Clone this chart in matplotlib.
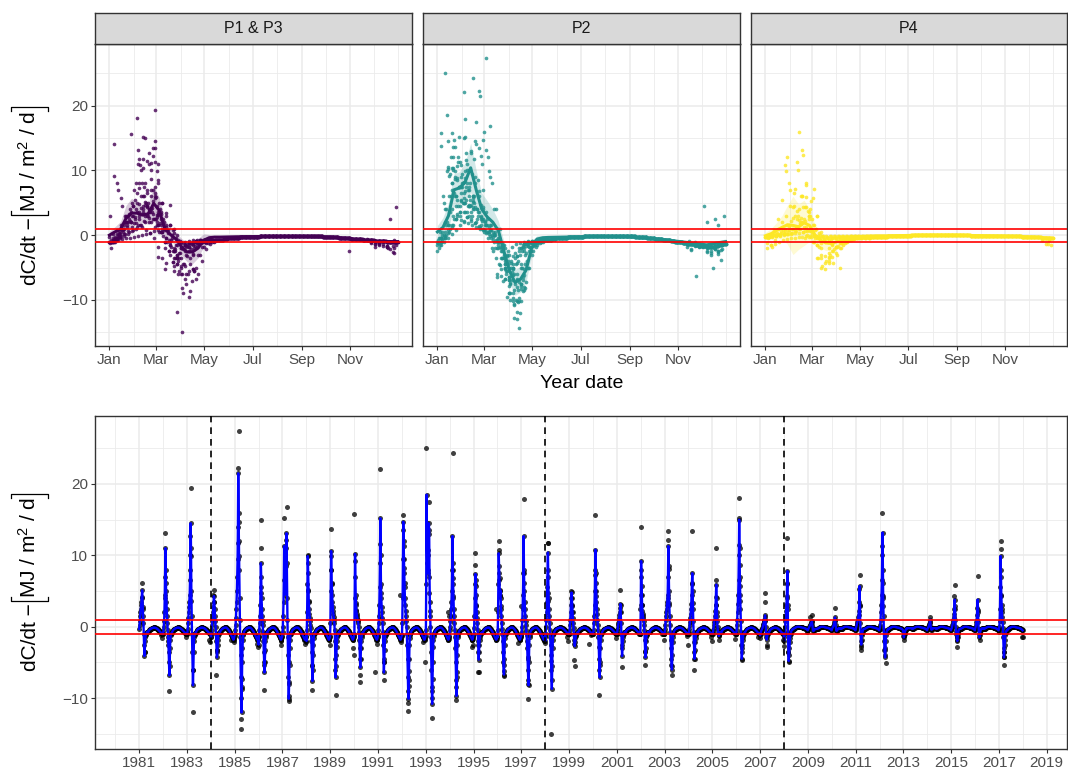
import matplotlib.pyplot as plt
from matplotlib.lines import Line2D
import numpy as np

plt.rcParams['font.family'] = ['Liberation Sans', 'DejaVu Sans']
plt.rcParams['mathtext.fontset'] = 'custom'
plt.rcParams['mathtext.rm'] = 'Liberation Sans'
plt.rcParams['mathtext.it'] = 'Liberation Sans:italic'
plt.rcParams['mathtext.bf'] = 'Liberation Sans:bold'

# day of year grids (0 = 1 Jan)
spring_doy = list(range(0, 131, 5))
base_doy = list(range(135, 361, 5))

# winter/spring values per year, one value per spring_doy
spring_p1 = {
    1981: [-0.3, 0.2, 0.8, 1.5, 2.0, 2.5, 3.0, 3.5, 4.2, 5.1, 4.0, 2.5, 1.5, 0.5, -1.0, -2.5, -4.1, -3.5, -2.0, -1.5, -1.2, -1.0, -0.9, -0.8, -0.7, -0.7, -0.8],
    1982: [-1.0, -0.6, 0.0, 0.8, 2.0, 4.0, 7.0, 11.0, 8.0, 5.0, 3.5, 2.5, 1.5, 0.5, -0.5, -1.5, -2.5, -3.5, -5.0, -6.8, -5.5, -3.0, -1.8, -1.2, -1.0, -0.9, -0.9],
    1983: [-1.0, -0.8, -0.3, 0.5, 1.2, 2.0, 2.8, 3.5, 4.5, 6.5, 10.0, 14.5, 11.0, 5.0, 1.5, -1.0, -3.5, -6.0, -8.2, -6.0, -3.5, -2.0, -1.4, -1.1, -1.0, -0.9, -0.9],
}
spring_p2 = {
    1984: [-1.5, -1.0, -0.5, 0.2, 0.8, 1.5, 2.0, 2.8, 3.5, 4.3, 3.5, 2.5, 1.5, 0.8, 0.0, -1.0, -2.0, -3.2, -4.3, -3.5, -2.5, -1.8, -1.3, -1.0, -0.9, -0.8, -0.8],
    1985: [-1.0, -0.5, 0.3, 1.2, 2.5, 3.5, 5.0, 7.0, 9.5, 14.0, 21.5, 16.0, 12.0, 8.0, 4.0, 1.0, -1.5, -4.0, -7.0, -10.0, -12.0, -8.5, -5.0, -3.0, -1.8, -1.2, -1.0],
    1986: [-2.5, -1.5, -0.5, 0.5, 1.5, 3.0, 5.5, 8.9, 7.0, 4.0, 2.5, 1.5, 0.8, 0.2, -0.8, -2.0, -3.5, -5.0, -6.4, -5.0, -3.2, -2.0, -1.4, -1.1, -0.9, -0.8, -0.8],
    1987: [-0.8, 0.0, 1.5, 3.5, 6.5, 11.3, 8.0, 5.5, 4.5, 6.0, 8.5, 11.0, 13.1, 9.0, 4.0, 1.0, -1.5, -4.0, -7.0, -10.1, -8.0, -5.0, -3.0, -1.8, -1.2, -1.0, -0.9],
    1988: [-2.0, -0.5, 2.0, 6.0, 9.9, 7.5, 5.0, 3.5, 2.5, 1.8, 1.2, 0.8, 0.3, -0.2, -1.0, -2.0, -3.5, -5.5, -7.6, -6.0, -4.0, -2.5, -1.6, -1.2, -1.0, -0.9, -0.9],
    1989: [0.5, 5.0, 10.6, 8.0, 6.0, 4.5, 3.5, 2.8, 2.2, 1.8, 1.4, 1.0, 0.5, -0.5, -2.0, -4.5, -7.1, -5.5, -4.0, -2.8, -2.0, -1.5, -1.2, -1.0, -0.9, -0.8, -0.8],
    1990: [-1.0, 4.0, 10.2, 7.0, 4.5, 3.0, 2.2, 1.8, 1.5, 1.2, 1.0, 0.8, 0.5, 0.0, -0.8, -1.8, -3.0, -4.5, -5.7, -4.5, -3.0, -2.0, -1.4, -1.1, -0.9, -0.8, -0.8],
    1991: [-1.0, -0.5, 0.5, 1.5, 3.0, 5.5, 9.0, 15.2, 10.0, 6.0, 4.0, 2.8, 2.0, 1.2, 0.5, -0.8, -2.5, -4.5, -6.4, -5.0, -3.2, -2.0, -1.4, -1.1, -1.0, -0.9, -0.9],
    1992: [-1.2, 0.5, 4.0, 9.5, 14.7, 12.0, 9.5, 7.5, 5.5, 4.0, 3.0, 2.2, 1.5, 0.8, 0.0, -1.0, -2.5, -4.5, -7.0, -9.0, -10.1, -7.5, -4.5, -2.5, -1.6, -1.2, -1.0],
    1993: [-0.5, 6.0, 18.5, 12.0, 9.0, 7.5, 8.0, 10.0, 13.0, 14.5, 13.5, 7.0, 3.5, 1.5, 0.0, -1.5, -3.5, -6.0, -9.0, -10.8, -8.5, -5.0, -2.8, -1.8, -1.3, -1.0, -0.9],
    1994: [-0.5, 0.0, 0.8, 1.5, 2.5, 3.5, 5.0, 8.0, 12.7, 9.0, 6.0, 4.0, 2.5, 1.5, 0.5, -0.5, -1.5, -3.0, -5.0, -7.5, -9.7, -7.0, -4.0, -2.5, -1.5, -1.1, -0.9],
    1995: [-1.0, -0.2, 1.5, 4.0, 6.0, 7.4, 6.5, 4.5, 3.0, 2.0, 1.2, 0.5, -0.5, -2.0, -3.5, -4.6, -3.5, -2.5, -1.8, -1.4, -1.2, -1.0, -0.9, -0.9, -0.8, -0.8, -0.8],
    1996: [-1.5, -0.5, 2.0, 6.0, 10.3, 8.5, 6.5, 5.0, 4.5, 5.1, 4.0, 2.5, 1.5, 0.5, -0.3, -1.0, -2.0, -3.5, -5.0, -6.2, -6.7, -4.5, -2.5, -1.6, -1.2, -1.0, -0.9],
    1997: [-1.2, -0.8, 0.0, 1.0, 2.5, 4.5, 7.5, 12.7, 8.0, 5.0, 3.5, 2.5, 1.5, 0.8, 0.2, -0.5, -1.2, -2.0, -3.0, -4.5, -6.0, -7.5, -8.2, -5.0, -2.5, -1.5, -1.1],
}
spring_p3 = {
    1998: [-2.0, -1.0, 0.0, 1.0, 2.0, 3.5, 5.5, 8.0, 10.4, 7.0, 4.0, 2.5, 1.5, 0.5, -0.5, -1.5, -2.5, -4.0, -6.0, -7.5, -8.7, -5.5, -3.0, -1.8, -1.2, -1.0, -0.9],
    1999: [-1.0, -0.5, 0.2, 1.0, 2.0, 3.0, 4.0, 4.8, 4.0, 3.0, 2.0, 1.2, 0.5, -0.2, -1.0, -1.8, -2.4, -2.7, -2.2, -1.6, -1.3, -1.1, -1.0, -0.9, -0.8, -0.8, -0.8],
    2000: [-1.0, -0.5, 0.5, 1.5, 3.0, 5.0, 8.0, 10.8, 7.5, 5.0, 3.5, 2.5, 1.8, 1.0, 0.3, -0.5, -1.5, -2.8, -4.5, -6.0, -7.1, -5.0, -3.0, -1.8, -1.2, -1.0, -0.9],
    2001: [-1.0, -0.8, -0.5, -0.2, 0.2, 0.5, 0.8, 1.2, 1.6, 2.0, 2.6, 3.2, 2.0, 0.5, -1.0, -2.5, -4.1, -3.0, -2.0, -1.5, -1.2, -1.0, -0.9, -0.8, -0.8, -0.7, -0.7],
    2002: [3.0, 9.2, 7.0, 4.5, 3.0, 2.2, 1.8, 1.5, 1.2, 0.8, 0.3, -0.5, -1.8, -3.5, -4.3, -3.0, -2.0, -1.5, -1.2, -1.0, -0.9, -0.8, -0.8, -0.7, -0.7, -0.7, -0.7],
    2003: [-0.8, -0.3, 0.3, 1.0, 1.5, 2.0, 2.5, 3.0, 3.5, 4.5, 7.0, 11.3, 8.5, 5.0, 3.0, 1.5, 0.3, -0.8, -1.8, -3.0, -4.5, -5.5, -6.0, -4.0, -2.2, -1.4, -1.0],
    2004: [-1.0, -0.7, -0.3, 0.2, 0.7, 1.2, 1.8, 2.5, 3.2, 4.5, 6.0, 7.5, 5.0, 2.5, 0.8, -0.8, -2.2, -3.5, -4.5, -3.2, -2.2, -1.6, -1.2, -1.0, -0.9, -0.8, -0.8],
    2005: [-1.0, -0.8, -0.5, -0.2, 0.2, 0.6, 1.0, 1.5, 2.2, 3.0, 4.2, 5.9, 4.0, 2.0, 0.8, 0.0, -0.5, -0.9, -1.2, -1.3, -1.2, -1.0, -0.9, -0.8, -0.8, -0.7, -0.7],
    2006: [-1.0, -0.5, 0.2, 1.0, 2.0, 3.2, 4.5, 6.5, 10.0, 15.0, 11.0, 7.0, 4.5, 2.5, 0.8, -0.8, -2.5, -4.5, -3.5, -2.5, -1.8, -1.4, -1.1, -1.0, -0.9, -0.8, -0.8],
    2007: [-1.2, -1.0, -0.8, -0.6, -0.5, -0.4, -0.3, -0.2, 0.0, 0.2, 0.4, 0.6, 0.8, 1.0, 1.3, 1.6, 1.0, 0.0, -1.0, -1.5, -1.8, -1.5, -1.2, -1.0, -0.9, -0.8, -0.8],
}
spring_p4 = {
    2008: [-2.0, -1.5, -0.8, 0.0, 0.8, 1.5, 2.2, 3.0, 4.0, 6.0, 7.8, 3.0, -1.0, -3.5, -4.8, -4.0, -3.0, -2.2, -1.6, -1.2, -1.0, -0.8, -0.6, -0.5, -0.4, -0.4, -0.4],
    2009: [-0.4, -0.3, -0.2, -0.1, 0.0, 0.1, 0.2, 0.3, 0.4, 0.5, 0.6, 0.7, 0.8, 0.3, -0.2, -0.5, -0.6, -0.5, -0.5, -0.4, -0.4, -0.3, -0.3, -0.3, -0.3, -0.3, -0.3],
    2010: [-0.3, -0.2, -0.1, 0.0, 0.1, 0.2, 0.4, 0.6, 0.9, 1.3, 0.8, 0.2, -0.2, -0.5, -0.6, -0.5, -0.4, -0.4, -0.3, -0.3, -0.3, -0.2, -0.2, -0.2, -0.2, -0.2, -0.2],
    2011: [-0.3, -0.2, 0.0, 0.2, 0.4, 0.6, 0.8, 1.0, 1.3, 1.7, 2.2, 3.5, 5.7, 3.0, 0.5, -1.0, -2.0, -2.5, -1.8, -1.2, -0.9, -0.7, -0.5, -0.4, -0.3, -0.3, -0.3],
    2012: [-0.3, -0.1, 0.3, 1.0, 2.0, 3.0, 4.5, 6.5, 10.0, 13.2, 8.0, 4.0, 1.5, -0.5, -2.0, -3.2, -4.0, -4.3, -3.0, -2.0, -1.2, -0.8, -0.6, -0.5, -0.4, -0.4, -0.4],
    2013: [-1.2, -1.5, -1.3, -1.0, -0.8, -0.6, -0.5, -0.4, -0.3, -0.3, -0.2, -0.2, -0.2, -0.2, -0.2, -0.2, -0.2, -0.2, -0.2, -0.2, -0.2, -0.2, -0.2, -0.2, -0.2, -0.2, -0.2],
    2014: [-0.3, -0.2, -0.1, 0.0, 0.1, 0.2, 0.4, 0.6, 1.0, 0.5, 0.0, -0.3, -0.4, -0.4, -0.3, -0.3, -0.2, -0.2, -0.2, -0.2, -0.2, -0.2, -0.2, -0.2, -0.2, -0.2, -0.2],
    2015: [-0.3, -0.2, 0.0, 0.2, 0.4, 0.6, 0.9, 1.3, 1.8, 2.5, 3.8, 2.5, 1.0, 0.0, -0.6, -1.0, -1.4, -1.8, -2.0, -1.5, -1.0, -0.7, -0.5, -0.4, -0.3, -0.3, -0.3],
    2016: [-0.3, -0.2, 0.0, 0.3, 0.6, 1.0, 1.6, 2.6, 3.8, 2.0, 0.6, -0.3, -1.0, -1.5, -1.2, -0.9, -0.7, -0.5, -0.4, -0.3, -0.3, -0.3, -0.2, -0.2, -0.2, -0.2, -0.2],
    2017: [-0.3, 0.0, 0.8, 2.5, 5.5, 9.9, 7.0, 4.5, 3.0, 2.0, 1.3, 0.7, -0.2, -1.5, -3.0, -4.3, -3.5, -2.5, -1.8, -1.2, -0.9, -0.7, -0.6, -0.5, -0.5, -0.5, -0.5],
}

# single days off the regular line (doy, value)
extra_p1 = {
    1981: [(44, 6.1), (60, 2.8), (83, -3.6), (330, -1.2), (350, -1.6)],
    1982: [(36, 13.1), (40, 6.1), (30, 4.5), (93, -9.0), (70, -2.0), (320, -0.6), (345, -1.4), (360, -0.8)],
    1983: [(57, 19.4), (50, 12.7), (60, 9.9), (45, 8.0), (86, -11.9), (65, 3.6), (335, -1.8), (355, -2.2), (362, -1.5)],
}
extra_p2 = {
    1984: [(45, 5.2), (40, 4.5), (85, -6.7), (95, -3.2), (315, -1.9), (330, -1.3), (350, -2.1)],
    1985: [(61, 27.4), (53, 22.3), (46, 11.7), (58, 14.7), (65, 9.9), (100, -12.9), (103, -14.3), (108, -8.7), (112, -7.3), (340, -2.4), (355, -2.9)],
    1986: [(33, 15.0), (38, 11.0), (42, 4.7), (90, -8.9), (85, -5.3), (325, -1.6), (340, -2.6), (350, -2.0)],
    1987: [(66, 16.8), (27, 15.2), (55, 12.2), (35, 9.9), (45, 5.7), (102, -10.4), (95, -9.7), (105, -7.8), (110, -5.3), (330, -1.9), (345, -2.4), (360, -2.2)],
    1988: [(20, 10.0), (25, 8.9), (30, 5.2), (35, 3.6), (90, -8.9), (80, -5.3), (318, -0.9), (335, -1.5), (355, -2.6)],
    1989: [(5, 13.7), (12, 9.9), (18, 8.0), (22, 6.1), (88, -9.5), (75, -6.0), (345, -3.0), (358, -3.9)],
    1990: [(4, 15.8), (15, 9.2), (25, 3.3), (30, 2.4), (90, -7.8), (86, -6.7), (326, -6.3), (340, -1.8), (355, -2.4)],
    1991: [(33, 22.1), (36, 11.6), (40, 4.7), (92, -7.4), (85, -5.0), (337, 4.5), (350, -2.2)],
    1992: [(18, 15.7), (22, 13.6), (28, 11.3), (33, 8.2), (40, 6.1), (97, -10.7), (100, -11.8), (105, -8.3), (110, -6.2), (320, -2.2), (330, -1.4), (348, -5.0)],
    1993: [(9, 25.1), (49, 17.5), (14, 14.5), (20, 13.6), (30, 10.8), (55, 4.7), (60, 2.2), (97, -12.8), (92, -10.0), (103, -7.3), (340, 2.0), (355, 1.5)],
    1994: [(45, 24.3), (48, 8.0), (52, 6.8), (58, 4.3), (103, -10.2), (97, -8.5), (108, -6.4), (335, -1.8), (345, -2.8), (355, -2.5)],
    1995: [(18, 10.4), (22, 8.7), (33, 5.7), (40, 2.9), (75, -6.4), (80, -6.3), (70, -2.5), (330, -1.5), (350, 2.5)],
    1996: [(20, 12.0), (25, 10.7), (30, 7.5), (35, 6.8), (45, 4.3), (55, 2.9), (101, -6.9), (95, -5.3), (320, -2.3), (345, -1.7), (362, 2.9)],
    1997: [(35, 17.9), (40, 7.5), (45, 6.1), (105, -10.1), (110, -8.0), (100, -4.3), (325, -1.0), (340, -2.0), (358, -2.3)],
}
extra_p3 = {
    1998: [(38, 11.8), (42, 11.7), (45, 4.7), (50, 3.6), (92, -15.0), (95, -4.8), (335, -1.4), (352, -2.0)],
    1999: [(35, 5.0), (45, 2.9), (50, 2.0), (82, -4.7), (88, -5.5), (303, -2.4), (340, -1.2)],
    2000: [(27, 15.6), (38, 7.3), (42, 6.1), (48, 4.3), (100, -9.6), (105, -5.3), (325, -0.6), (350, -1.6)],
    2001: [(55, 5.2), (60, 3.1), (82, -5.6), (355, 2.5), (362, 4.4)],
    2002: [(6, 14.0), (10, 8.0), (15, 5.7), (20, 3.0), (70, -5.3), (62, -3.4), (330, -1.0), (350, -1.8)],
    2003: [(58, 13.4), (55, 12.2), (62, 8.1), (50, 4.0), (65, 3.3), (110, -6.7), (105, -5.3), (335, -1.3), (358, -2.6)],
    2004: [(55, 13.4), (58, 6.1), (62, 3.3), (90, -6.0), (85, -4.5), (340, -1.5), (360, -2.0)],
    2005: [(53, 11.1), (57, 6.5), (62, 3.1), (65, 1.5), (97, -1.8), (320, -0.8), (345, -1.7)],
    2006: [(35, 18.1), (42, 15.2), (48, 11.5), (52, 8.7), (58, 5.7), (62, 3.6), (90, -4.7), (85, -3.0), (340, -1.4), (358, -1.6)],
    2007: [(77, 4.7), (72, 3.4), (80, 0.8), (100, -2.5), (105, -2.9), (350, -1.8), (360, -2.7)],
}
extra_p4 = {
    2008: [(48, 12.4), (45, 6.1), (52, 4.3), (55, 2.5), (70, -5.0), (65, -3.5), (350, -0.8)],
    2009: [(60, 1.6), (30, 1.4)],
    2010: [(45, 2.6), (50, -0.5)],
    2011: [(62, 7.2), (58, 5.3), (65, 2.9), (85, -3.3), (80, -2.8)],
    2012: [(42, 15.9), (40, 11.3), (46, 6.1), (50, 4.3), (55, 2.9), (95, -5.1), (80, -3.3), (358, -1.3)],
    2013: [(8, -1.8)],
    2014: [(40, 1.3)],
    2015: [(51, 5.9), (48, 4.3), (55, 2.9), (90, -2.8), (85, -1.5)],
    2016: [(38, 7.1), (42, 2.4), (68, -1.8), (360, -0.8)],
    2017: [(28, 12.0), (25, 10.9), (30, 8.0), (35, 4.3), (40, 2.5), (75, -5.3), (70, -3.5), (80, -4.3), (355, -1.4), (362, -1.5)],
}

# summer/autumn values per period, one value per base_doy
base_p13 = [-0.8, -0.7, -0.6, -0.5, -0.45, -0.4, -0.35, -0.3, -0.3, -0.25, -0.25, -0.2, -0.2, -0.2, -0.15, -0.15,
            -0.15, -0.1, -0.1, -0.1, -0.1, -0.15, -0.15, -0.15, -0.2, -0.2, -0.2, -0.25, -0.3, -0.3, -0.35, -0.4,
            -0.45, -0.5, -0.55, -0.6, -0.65, -0.7, -0.75, -0.8, -0.85, -0.9, -0.95, -1.0, -1.0, -1.0]
base_p2 = [-0.8, -0.7, -0.6, -0.5, -0.45, -0.4, -0.35, -0.3, -0.3, -0.25, -0.2, -0.2, -0.15, -0.15, -0.15, -0.1,
           -0.1, -0.1, -0.1, -0.1, -0.15, -0.15, -0.2, -0.25, -0.3, -0.35, -0.4, -0.5, -0.55, -0.6, -0.7, -0.8,
           -0.9, -1.0, -1.1, -1.2, -1.3, -1.4, -1.5, -1.6, -1.7, -1.8, -1.8, -1.7, -1.5, -1.3]
base_p4 = [-0.3, -0.3, -0.25, -0.25, -0.2, -0.2, -0.15, -0.15, -0.1, -0.1, -0.05, -0.05, 0.0, 0.0, 0.0, 0.0,
           0.0, 0.0, 0.0, 0.0, 0.0, 0.0, -0.05, -0.05, -0.05, -0.1, -0.1, -0.1, -0.1, -0.1, -0.15, -0.15,
           -0.15, -0.15, -0.2, -0.2, -0.2, -0.2, -0.25, -0.25, -0.3, -0.3, -0.35, -0.4, -0.45, -0.5]

# smoothed seasonal curves for the top panels (value, half width of band)
smooth_doy = [0, 7, 14, 21, 28, 35, 42, 49, 56, 63, 70, 77, 84, 91, 98, 105, 112, 119, 126, 133, 140, 160, 200, 240, 280, 300, 320, 340, 364]
smooth_p13 = [0.0, 0.5, 0.9, 2.6, 3.4, 3.4, 3.1, 3.3, 4.9, 3.8, 1.0, 0.1, -0.6, -1.8, -2.6, -2.6, -2.0, -0.8, -0.4, -0.3,
              -0.3, -0.25, -0.2, -0.2, -0.3, -0.5, -0.8, -1.0, -1.0]
band_p13 = [0.6, 0.8, 1.2, 2.0, 2.3, 1.5, 1.2, 1.6, 2.6, 2.0, 1.4, 1.0, 1.0, 1.3, 1.5, 1.8, 1.5, 1.0, 0.5, 0.25,
            0.15, 0.15, 0.15, 0.15, 0.15, 0.15, 0.2, 0.2, 0.3]
smooth_p2 = [0.5, 1.2, 3.0, 7.0, 7.3, 8.2, 10.4, 7.0, 4.0, 2.8, 2.0, 0.7, -2.5, -5.5, -7.3, -6.8, -5.4, -2.0, -0.6, -0.4,
             -0.35, -0.3, -0.2, -0.25, -0.6, -0.9, -1.2, -1.5, -1.0]
band_p2 = [1.0, 1.5, 2.0, 2.5, 2.5, 3.0, 3.8, 3.0, 2.5, 2.5, 2.0, 1.5, 1.5, 1.8, 2.0, 2.0, 1.8, 1.2, 0.5, 0.3,
           0.2, 0.2, 0.2, 0.2, 0.2, 0.2, 0.25, 0.3, 0.4]
smooth_p4 = [-0.1, 0.2, 0.7, 1.2, 1.6, 1.5, 1.3, 1.9, 1.5, 0.0, -0.8, -1.2, -1.3, -1.0, -0.8, -0.6, -0.4, -0.3, -0.2, -0.15,
             -0.1, -0.1, 0.0, 0.0, -0.1, -0.15, -0.2, -0.3, -0.5]
band_p4 = [0.5, 0.8, 1.2, 1.8, 3.0, 4.5, 3.5, 3.5, 2.5, 1.5, 1.2, 1.2, 1.0, 0.8, 0.7, 0.6, 0.4, 0.3, 0.15, 0.15,
           0.15, 0.15, 0.15, 0.15, 0.15, 0.15, 0.15, 0.2, 0.3]

change_years = [1984, 1998, 2008]

# ---- assemble the series
periods = [("P1 & P3", spring_p1, extra_p1, base_p13),
           ("P2", spring_p2, extra_p2, base_p2),
           ("P1 & P3", spring_p3, extra_p3, base_p13),
           ("P4", spring_p4, extra_p4, base_p4)]

line_t, line_v = [], []
pt_t, pt_v, pt_doy, pt_panel = [], [], [], []
for panel, spring, extra, base in periods:
    for year in sorted(spring):
        assert len(spring[year]) == len(spring_doy), year
        assert len(base) == len(base_doy)
        start = (year - 1981) % 5   # sampling days move a little from year to year
        for d, v in zip(spring_doy + base_doy, spring[year] + base):
            d = d + start
            line_t.append(year + d / 365.0)
            line_v.append(v)
            pt_t.append(year + d / 365.0)
            pt_v.append(v)
            pt_doy.append(d)
            pt_panel.append(panel)
        for d, v in extra[year]:
            pt_t.append(year + d / 365.0)
            pt_v.append(v)
            pt_doy.append(d)
            pt_panel.append(panel)

pt_t = np.array(pt_t)
pt_v = np.array(pt_v)
pt_doy = np.array(pt_doy)
pt_panel = np.array(pt_panel)

lo, hi = pt_v.min(), pt_v.max()
ylim = (lo - 0.05 * (hi - lo), hi + 0.05 * (hi - lo))

W, H = 1068, 772


def rect(x0, y0, x1, y1):
    return [x0 / W, 1 - y1 / H, (x1 - x0) / W, (y1 - y0) / H]


def style(ax):
    for s in ax.spines.values():
        s.set_color('#333333')
        s.set_linewidth(1.0)
    ax.set_ylim(ylim)
    ax.set_yticks([-10, 0, 10, 20])
    ax.set_yticks([-15, -5, 5, 15, 25], minor=True)
    ax.grid(which='major', color='#EBEBEB', lw=1.1)
    ax.grid(which='minor', color='#EBEBEB', lw=0.6)
    ax.set_axisbelow(True)
    ax.tick_params(which='major', length=3.2, width=0.8, color='#333333',
                   labelsize=11, labelcolor='#4D4D4D', pad=2)
    ax.tick_params(which='minor', length=0)
    ax.axhline(1, color='#FF0000', lw=1.2, zorder=6)
    ax.axhline(-1, color='#FF0000', lw=1.2, zorder=6)


fig = plt.figure(figsize=(10.68, 7.72), dpi=100)

top = [("P1 & P3", 95, 412, '#440154', smooth_p13, band_p13),
       ("P2", 423, 740, '#21908C', smooth_p2, band_p2),
       ("P4", 751, 1067, '#FDE725', smooth_p4, band_p4)]

for i, (name, x0, x1, col, sm, bd) in enumerate(top):
    ax = fig.add_axes(rect(x0, 44, x1, 346))
    style(ax)
    m = pt_panel == name
    ax.scatter(pt_doy[m], pt_v[m], s=7, color=col, alpha=0.8, linewidths=0, zorder=2)
    sm = np.array(sm)
    bd = np.array(bd)
    ax.fill_between(smooth_doy, sm - bd, sm + bd, color=col, alpha=0.2, linewidth=0, zorder=3)
    ax.plot(smooth_doy, sm, color=col, lw=2.2, zorder=4)
    ax.set_xlim(-0.05 * 364, 364 * 1.05)
    ax.set_xticks([0, 59, 120, 181, 243, 304])
    ax.set_xticklabels(['Jan', 'Mar', 'May', 'Jul', 'Sep', 'Nov'])
    ax.set_xticks([31, 90, 151, 212, 273, 334, 365], minor=True)
    if i > 0:
        ax.tick_params(axis='y', which='both', left=False, labelleft=False)

    sx = fig.add_axes(rect(x0, 13, x1, 44))
    sx.set_facecolor('#D9D9D9')
    sx.set_xticks([])
    sx.set_yticks([])
    for s in sx.spines.values():
        s.set_color('#333333')
        s.set_linewidth(1.0)
    sx.text(0.5, 0.5, name, ha='center', va='center', fontsize=11.5, color='#1A1A1A',
            transform=sx.transAxes)

# ---- bottom: full time series
ax = fig.add_axes(rect(95, 416, 1067, 749))
style(ax)
ax.scatter(pt_t, pt_v, s=13, color='black', alpha=0.75, linewidths=0, zorder=2)
ax.plot(line_t, line_v, color='#0000FF', lw=1.7, zorder=3)
for y in change_years:
    ax.axvline(y, color='black', lw=1.2, linestyle=(0, (4, 3)), zorder=5)
t0, t1 = 1981.0, 2018.0
ax.set_xlim(t0 - 0.05 * (t1 - t0), t1 + 0.05 * (t1 - t0))
ax.set_xticks(np.arange(1981, 2020, 2))
ax.set_xticklabels([str(y) for y in range(1981, 2020, 2)])
ax.set_xticks(np.arange(1980, 2019, 2), minor=True)


# rotated y label with tall square brackets, built from pieces
def ylabel(yc):
    r = fig.canvas.get_renderer()
    fs = 15
    parts = ['dC/dt \u2212', r'MJ / m$^{2}$ / d']
    w = []
    for s in parts:
        t = fig.text(0, 0, s, fontsize=fs)
        w.append(t.get_window_extent(renderer=r).width)
        t.remove()
    g1, g2, serif = 2, 3, 4
    xb, xl, xr = 36, 11, 48
    total = w[0] + g1 + g2 + w[1] + g2
    y = (H - yc) - total / 2
    fig.text(xb / W, y / H, parts[0], fontsize=fs, rotation=90, rotation_mode='anchor',
             ha='left', va='baseline')
    yb1 = y + w[0] + g1
    fig.add_artist(Line2D(np.array([xl, xl, xr, xr]) / W,
                          np.array([yb1 + serif, yb1, yb1, yb1 + serif]) / H,
                          color='black', lw=0.9))
    fig.text(xb / W, (yb1 + g2) / H, parts[1], fontsize=fs, rotation=90, rotation_mode='anchor',
             ha='left', va='baseline')
    yb2 = yb1 + g2 + w[1] + g2
    fig.add_artist(Line2D(np.array([xl, xl, xr, xr]) / W,
                          np.array([yb2 - serif, yb2, yb2, yb2 - serif]) / H,
                          color='black', lw=0.9))


ylabel(196)
ylabel(582.5)
fig.text(581.5 / W, 1 - 383 / H, 'Year date', ha='center', va='center', fontsize=14)

fig.savefig('out.png', dpi=100)
